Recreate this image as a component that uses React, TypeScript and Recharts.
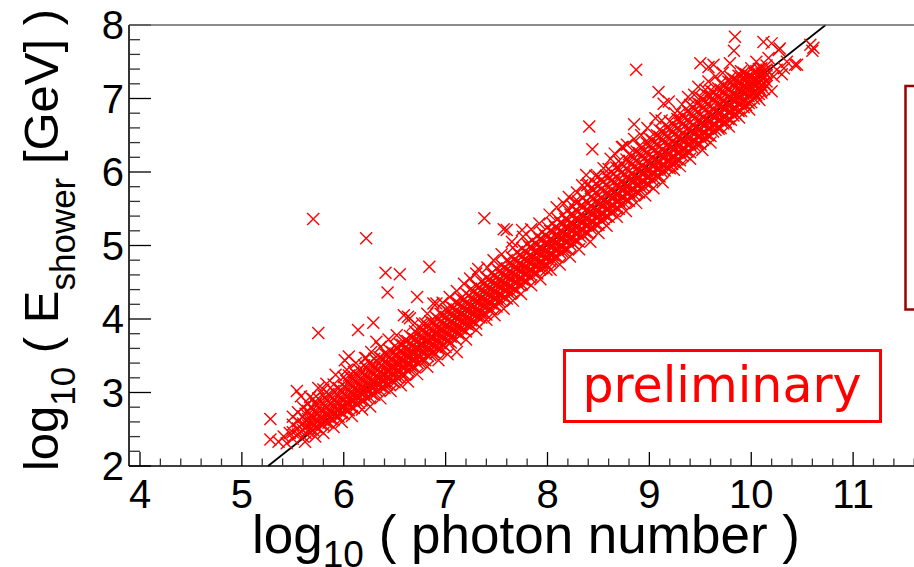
import React from 'react';
import { ScatterChart, Scatter, XAxis, YAxis, ReferenceLine } from 'recharts';

/* ── Data ────────────────────────────────────────────────────────────── */
// dense band: [log10 photon number, [log10 E_shower ...]]
const bandCols: [number, number[]][] = [
  [5.50, [2.37, 2.46, 2.56, 2.67]],
  [5.55, [2.43, 2.51, 2.61, 2.73]],
  [5.60, [2.40, 2.49, 2.58, 2.67, 2.80]],
  [5.65, [2.47, 2.55, 2.64, 2.75, 2.85]],
  [5.70, [2.49, 2.59, 2.66, 2.77, 2.91]],
  [5.75, [2.51, 2.61, 2.71, 2.80, 2.92]],
  [5.80, [2.56, 2.64, 2.74, 2.84, 2.96, 3.04]],
  [5.85, [2.59, 2.69, 2.77, 2.87, 2.98]],
  [5.90, [2.63, 2.71, 2.81, 2.90, 3.02, 3.11]],
  [5.95, [2.67, 2.77, 2.85, 2.95, 3.06]],
  [6.00, [2.71, 2.80, 2.89, 2.98, 3.08, 3.21]],
  [6.05, [2.76, 2.84, 2.92, 3.02, 3.13, 3.23]],
  [6.10, [2.79, 2.89, 2.97, 3.05, 3.17, 3.28]],
  [6.15, [2.86, 2.93, 3.02, 3.11, 3.21, 3.31]],
  [6.20, [2.89, 2.99, 3.06, 3.15, 3.24, 3.37]],
  [6.25, [2.94, 3.02, 3.11, 3.19, 3.30, 3.40]],
  [6.30, [2.97, 3.07, 3.15, 3.25, 3.34, 3.46]],
  [6.35, [3.03, 3.10, 3.20, 3.28, 3.39, 3.48]],
  [6.40, [3.06, 3.16, 3.23, 3.33, 3.42, 3.53]],
  [6.45, [3.11, 3.19, 3.29, 3.37, 3.48, 3.57]],
  [6.50, [3.14, 3.24, 3.33, 3.41, 3.51, 3.63]],
  [6.55, [3.21, 3.28, 3.38, 3.46, 3.56, 3.66]],
  [6.60, [3.24, 3.34, 3.42, 3.52, 3.61, 3.71]],
  [6.65, [3.31, 3.38, 3.48, 3.56, 3.67, 3.77]],
  [6.70, [3.34, 3.44, 3.53, 3.61, 3.72, 3.83]],
  [6.75, [3.41, 3.48, 3.58, 3.66, 3.77, 3.87]],
  [6.80, [3.44, 3.54, 3.62, 3.72, 3.81, 3.94]],
  [6.85, [3.51, 3.58, 3.68, 3.76, 3.87, 3.97]],
  [6.90, [3.53, 3.63, 3.71, 3.82, 3.91, 4.03]],
  [6.95, [3.59, 3.67, 3.77, 3.86, 3.97, 4.07]],
  [7.00, [3.62, 3.73, 3.81, 3.91, 4.02, 4.13]],
  [7.05, [3.68, 3.76, 3.87, 3.96, 4.07, 4.17]],
  [7.10, [3.72, 3.83, 3.91, 4.02, 4.12, 4.23]],
  [7.15, [3.79, 3.87, 3.98, 4.06, 4.18, 4.28]],
  [7.20, [3.83, 3.94, 4.02, 4.13, 4.22, 4.35]],
  [7.25, [3.91, 3.98, 4.09, 4.17, 4.29, 4.41]],
  [7.30, [3.94, 4.05, 4.13, 4.24, 4.33, 4.45]],
  [7.35, [4.02, 4.09, 4.20, 4.28, 4.40, 4.51]],
  [7.40, [4.06, 4.17, 4.24, 4.35, 4.45, 4.56]],
  [7.45, [4.13, 4.21, 4.32, 4.40, 4.51, 4.62]],
  [7.50, [4.17, 4.28, 4.36, 4.47, 4.56, 4.69]],
  [7.55, [4.25, 4.32, 4.43, 4.51, 4.63, 4.73]],
  [7.60, [4.28, 4.39, 4.47, 4.58, 4.67, 4.80]],
  [7.65, [4.36, 4.43, 4.54, 4.62, 4.74, 4.84]],
  [7.70, [4.39, 4.50, 4.58, 4.69, 4.78, 4.91]],
  [7.75, [4.47, 4.54, 4.65, 4.73, 4.85, 4.96]],
  [7.80, [4.51, 4.62, 4.69, 4.80, 4.90, 5.02]],
  [7.85, [4.58, 4.65, 4.77, 4.85, 4.97, 5.07]],
  [7.90, [4.62, 4.73, 4.80, 4.92, 5.01, 5.13]],
  [7.95, [4.69, 4.76, 4.88, 4.96, 5.08, 5.18]],
  [8.00, [4.73, 4.84, 4.91, 5.03, 5.12, 5.25]],
  [8.05, [4.80, 4.87, 4.99, 5.07, 5.19, 5.30]],
  [8.10, [4.84, 4.95, 5.02, 5.14, 5.23, 5.36]],
  [8.15, [4.91, 4.98, 5.10, 5.18, 5.30, 5.42]],
  [8.20, [4.95, 5.06, 5.13, 5.25, 5.34, 5.48]],
  [8.25, [5.03, 5.10, 5.21, 5.29, 5.42, 5.53]],
  [8.30, [5.06, 5.17, 5.25, 5.36, 5.46, 5.60]],
  [8.35, [5.14, 5.21, 5.32, 5.40, 5.53, 5.65]],
  [8.40, [5.17, 5.28, 5.36, 5.48, 5.57, 5.71, 5.84]],
  [8.45, [5.25, 5.32, 5.43, 5.51, 5.64, 5.76]],
  [8.50, [5.28, 5.39, 5.47, 5.59, 5.68, 5.81, 5.94]],
  [8.55, [5.36, 5.43, 5.54, 5.62, 5.75, 5.87]],
  [8.60, [5.39, 5.50, 5.58, 5.70, 5.79, 5.92, 6.04]],
  [8.65, [5.47, 5.54, 5.65, 5.73, 5.86, 5.97]],
  [8.70, [5.50, 5.61, 5.69, 5.81, 5.90, 6.05, 6.15]],
  [8.75, [5.58, 5.65, 5.76, 5.84, 5.97, 6.08]],
  [8.80, [5.61, 5.72, 5.80, 5.92, 6.01, 6.15, 6.24]],
  [8.85, [5.69, 5.76, 5.87, 5.95, 6.08, 6.18]],
  [8.90, [5.72, 5.83, 5.91, 6.03, 6.12, 6.26, 6.35]],
  [8.95, [5.80, 5.87, 5.98, 6.06, 6.19, 6.29]],
  [9.00, [5.83, 5.94, 6.02, 6.14, 6.23, 6.37, 6.46]],
  [9.05, [5.91, 5.98, 6.09, 6.17, 6.30, 6.40]],
  [9.10, [5.94, 6.05, 6.13, 6.25, 6.34, 6.48, 6.57]],
  [9.15, [6.02, 6.09, 6.20, 6.28, 6.41, 6.51]],
  [9.20, [6.05, 6.16, 6.24, 6.36, 6.45, 6.59, 6.69]],
  [9.25, [6.13, 6.20, 6.31, 6.39, 6.52, 6.62]],
  [9.30, [6.16, 6.27, 6.35, 6.47, 6.56, 6.70, 6.80]],
  [9.35, [6.24, 6.31, 6.42, 6.50, 6.63, 6.73]],
  [9.40, [6.27, 6.38, 6.46, 6.58, 6.67, 6.81, 6.91]],
  [9.45, [6.35, 6.42, 6.53, 6.61, 6.74, 6.84]],
  [9.50, [6.38, 6.49, 6.57, 6.69, 6.78, 6.92, 7.01]],
  [9.55, [6.46, 6.53, 6.64, 6.72, 6.85, 6.95]],
  [9.60, [6.49, 6.60, 6.68, 6.80, 6.89, 7.03, 7.11]],
  [9.65, [6.57, 6.64, 6.75, 6.83, 6.96, 7.05]],
  [9.70, [6.60, 6.71, 6.79, 6.91, 6.99, 7.12, 7.21]],
  [9.75, [6.68, 6.75, 6.86, 6.94, 7.06, 7.15]],
  [9.80, [6.71, 6.82, 6.90, 7.01, 7.09, 7.22, 7.29]],
  [9.85, [6.79, 6.86, 6.97, 7.04, 7.16, 7.24]],
  [9.90, [6.83, 6.94, 7.01, 7.12, 7.19, 7.31, 7.37]],
  [9.95, [6.91, 6.98, 7.08, 7.15, 7.26, 7.33]],
  [10.00, [6.95, 7.06, 7.12, 7.22, 7.29, 7.41]],
  [10.05, [7.04, 7.10, 7.20, 7.26, 7.37]],
  [10.10, [7.08, 7.18, 7.24, 7.34, 7.41]],
  [10.15, [7.17, 7.23, 7.32, 7.39]],
];

// the same band, events lying between the columns above
const bandMidCols: [number, number[]][] = [
  [5.625, [2.45, 2.53, 2.62, 2.71]],
  [5.675, [2.50, 2.58, 2.68, 2.80]],
  [5.725, [2.53, 2.62, 2.72, 2.84]],
  [5.775, [2.57, 2.66, 2.76, 2.88]],
  [5.825, [2.60, 2.70, 2.80, 2.91]],
  [5.875, [2.64, 2.74, 2.84, 2.95]],
  [5.925, [2.68, 2.77, 2.87, 2.98]],
  [5.975, [2.72, 2.81, 2.91, 3.02]],
  [6.025, [2.77, 2.86, 2.95, 3.06, 3.16]],
  [6.075, [2.80, 2.89, 2.99, 3.10, 3.20]],
  [6.125, [2.84, 2.94, 3.03, 3.14, 3.24]],
  [6.175, [2.89, 2.98, 3.07, 3.18, 3.28]],
  [6.225, [2.93, 3.03, 3.12, 3.22, 3.33]],
  [6.275, [2.98, 3.07, 3.16, 3.27, 3.37]],
  [6.325, [3.02, 3.12, 3.21, 3.31, 3.42]],
  [6.375, [3.07, 3.16, 3.25, 3.36, 3.46]],
  [6.425, [3.11, 3.21, 3.30, 3.40, 3.51]],
  [6.475, [3.16, 3.25, 3.35, 3.45, 3.55]],
  [6.525, [3.20, 3.30, 3.39, 3.50, 3.60]],
  [6.575, [3.25, 3.35, 3.44, 3.54, 3.65]],
  [6.625, [3.30, 3.40, 3.49, 3.59, 3.70]],
  [6.675, [3.35, 3.45, 3.54, 3.64, 3.75]],
  [6.725, [3.40, 3.50, 3.59, 3.69, 3.80]],
  [6.775, [3.45, 3.55, 3.64, 3.74, 3.85]],
  [6.825, [3.50, 3.60, 3.69, 3.79, 3.90]],
  [6.875, [3.55, 3.65, 3.74, 3.84, 3.95]],
  [6.925, [3.60, 3.70, 3.79, 3.89, 4.00]],
  [6.975, [3.65, 3.75, 3.84, 3.94, 4.05]],
  [7.025, [3.70, 3.80, 3.89, 3.99, 4.10]],
  [7.075, [3.75, 3.85, 3.94, 4.05, 4.15]],
  [7.125, [3.80, 3.90, 4.00, 4.10, 4.21]],
  [7.175, [3.86, 3.95, 4.05, 4.15, 4.26]],
  [7.225, [3.91, 4.01, 4.11, 4.21, 4.32]],
  [7.275, [3.97, 4.06, 4.16, 4.26, 4.37]],
  [7.325, [4.02, 4.12, 4.22, 4.32, 4.43]],
  [7.375, [4.08, 4.17, 4.27, 4.37, 4.48]],
  [7.425, [4.13, 4.23, 4.33, 4.43, 4.54]],
  [7.475, [4.19, 4.28, 4.38, 4.48, 4.59]],
  [7.525, [4.24, 4.34, 4.44, 4.54, 4.65]],
  [7.575, [4.30, 4.39, 4.49, 4.59, 4.70]],
  [7.625, [4.35, 4.45, 4.55, 4.65, 4.76]],
  [7.675, [4.41, 4.50, 4.60, 4.70, 4.81]],
  [7.725, [4.46, 4.56, 4.66, 4.76, 4.87]],
  [7.775, [4.52, 4.61, 4.71, 4.81, 4.92]],
  [7.825, [4.57, 4.67, 4.77, 4.87, 4.98]],
  [7.875, [4.63, 4.72, 4.82, 4.92, 5.03]],
  [7.925, [4.68, 4.78, 4.88, 4.98, 5.09]],
  [7.975, [4.74, 4.83, 4.93, 5.03, 5.14]],
  [8.025, [4.79, 4.89, 4.99, 5.09, 5.20]],
  [8.075, [4.85, 4.94, 5.04, 5.14, 5.25]],
  [8.125, [4.90, 5.00, 5.10, 5.20, 5.31]],
  [8.175, [4.96, 5.05, 5.15, 5.25, 5.36]],
  [8.225, [5.01, 5.11, 5.21, 5.31, 5.42]],
  [8.275, [5.07, 5.16, 5.26, 5.36, 5.48]],
  [8.325, [5.12, 5.22, 5.32, 5.42, 5.54]],
  [8.375, [5.18, 5.27, 5.37, 5.48, 5.60]],
  [8.425, [5.23, 5.33, 5.43, 5.54, 5.66, 5.78]],
  [8.475, [5.29, 5.38, 5.48, 5.60, 5.72, 5.84]],
  [8.525, [5.34, 5.44, 5.54, 5.65, 5.77, 5.89]],
  [8.575, [5.40, 5.49, 5.59, 5.71, 5.83, 5.95]],
  [8.625, [5.45, 5.55, 5.65, 5.76, 5.88, 6.00]],
  [8.675, [5.51, 5.60, 5.70, 5.82, 5.94, 6.06]],
  [8.725, [5.56, 5.66, 5.76, 5.87, 5.99, 6.11]],
  [8.775, [5.62, 5.71, 5.81, 5.93, 6.05, 6.17]],
  [8.825, [5.67, 5.77, 5.87, 5.98, 6.10, 6.22]],
  [8.875, [5.73, 5.82, 5.92, 6.04, 6.16, 6.28]],
  [8.925, [5.78, 5.88, 5.98, 6.09, 6.21, 6.33]],
  [8.975, [5.84, 5.93, 6.03, 6.15, 6.27, 6.39]],
  [9.025, [5.89, 5.99, 6.09, 6.20, 6.32, 6.44]],
  [9.075, [5.95, 6.04, 6.14, 6.26, 6.38, 6.50]],
  [9.125, [6.00, 6.10, 6.20, 6.31, 6.43, 6.55]],
  [9.175, [6.06, 6.15, 6.25, 6.37, 6.49, 6.61]],
  [9.225, [6.11, 6.21, 6.31, 6.42, 6.54, 6.66]],
  [9.275, [6.17, 6.26, 6.36, 6.48, 6.60, 6.72]],
  [9.325, [6.22, 6.32, 6.42, 6.53, 6.65, 6.77]],
  [9.375, [6.28, 6.37, 6.47, 6.59, 6.71, 6.83]],
  [9.425, [6.33, 6.43, 6.53, 6.64, 6.76, 6.88]],
  [9.475, [6.39, 6.48, 6.58, 6.70, 6.82, 6.94]],
  [9.525, [6.44, 6.54, 6.64, 6.75, 6.87, 6.99]],
  [9.575, [6.50, 6.59, 6.69, 6.81, 6.93, 7.04]],
  [9.625, [6.55, 6.65, 6.75, 6.86, 6.98, 7.09]],
  [9.675, [6.61, 6.70, 6.80, 6.92, 7.03, 7.14]],
  [9.725, [6.66, 6.76, 6.86, 6.97, 7.08, 7.18]],
  [9.775, [6.72, 6.81, 6.91, 7.02, 7.13, 7.23]],
  [9.825, [6.77, 6.87, 6.97, 7.07, 7.18, 7.27]],
  [9.875, [6.83, 6.92, 7.02, 7.12, 7.22, 7.31]],
  [9.925, [6.88, 6.98, 7.07, 7.17, 7.27, 7.35]],
  [9.975, [6.94, 7.03, 7.13, 7.22, 7.31]],
  [10.025, [7.00, 7.09, 7.18, 7.27, 7.35]],
  [10.075, [7.06, 7.15, 7.23, 7.32, 7.40]],
  [10.125, [7.13, 7.21, 7.29, 7.37]],
];

// looser events around the band edges
const edgePoints: [number, number][] = [
  [5.58, 2.95], [5.67, 2.94], [5.75, 3.06], [5.83, 3.12], [5.92, 3.24], [6.01, 3.44], [6.03, 3.31],
  [6.12, 3.40], [6.21, 3.47], [6.27, 3.55], [6.32, 3.69], [6.36, 3.62], [6.44, 3.72], [6.52, 3.78],
  [6.59, 4.05], [6.65, 4.01], [6.68, 3.92], [6.77, 3.94], [6.82, 4.07], [6.88, 4.21], [6.91, 4.21],
  [6.97, 4.22], [7.04, 4.30], [7.11, 4.38], [7.18, 4.48], [7.24, 4.55], [7.30, 4.62], [7.32, 4.68],
  [7.41, 4.70], [7.47, 4.80], [7.55, 4.88], [7.60, 5.21], [7.65, 5.05], [7.66, 4.97], [7.75, 5.21],
  [7.76, 5.12], [7.84, 5.22], [7.92, 5.30], [8.02, 5.42], [8.09, 5.52], [8.16, 5.57], [8.21, 5.66],
  [8.27, 5.60], [8.29, 5.72], [8.34, 5.82], [8.39, 5.82], [8.38, 5.96], [8.47, 5.95], [8.55, 6.05],
  [8.62, 6.18], [8.66, 6.25], [8.73, 6.34], [8.78, 6.37], [8.85, 6.45], [8.92, 6.50], [8.98, 6.60],
  [9.06, 6.73], [9.09, 7.09], [9.14, 6.93], [9.19, 6.96], [9.12, 6.70], [9.25, 6.80], [9.32, 6.92],
  [9.38, 7.02], [9.44, 7.05], [9.48, 7.16], [9.50, 7.48], [9.55, 7.12], [9.58, 7.23], [9.58, 7.43],
  [9.63, 7.46], [9.65, 7.30], [9.72, 7.35], [9.79, 7.48],
  [5.62, 2.33], [5.72, 2.40], [5.80, 2.45], [5.90, 2.53], [5.98, 2.60], [6.08, 2.68], [6.18, 2.77],
  [6.26, 2.81], [6.36, 2.92], [6.46, 3.02], [6.56, 3.10], [6.63, 3.15], [6.72, 3.25], [6.82, 3.35],
  [6.93, 3.44], [7.02, 3.52], [7.11, 3.55], [7.20, 3.72], [7.30, 3.85], [7.40, 3.99], [7.48, 4.05],
  [7.57, 4.14], [7.66, 4.25], [7.74, 4.34], [7.84, 4.46], [7.93, 4.54], [7.99, 4.67], [8.03, 4.67],
  [8.12, 4.74], [8.22, 4.85], [8.31, 4.95], [8.42, 5.05], [8.50, 5.17], [8.58, 5.27], [8.68, 5.39],
  [8.77, 5.47], [8.87, 5.58], [8.96, 5.68], [9.04, 5.78], [9.08, 6.03], [9.13, 5.86], [9.24, 6.03],
  [9.30, 6.08], [9.40, 6.18], [9.52, 6.30], [9.60, 6.40], [9.68, 6.59], [9.78, 6.62], [9.88, 6.74],
  [9.98, 6.85], [10.08, 6.98], [10.20, 7.10],
  [9.84, 7.84], [9.83, 7.65], [9.99, 7.16], [10.09, 7.12], [10.12, 7.27], [10.17, 7.55], [10.12, 7.77],
  [10.20, 7.75], [10.27, 7.66], [10.28, 7.68], [10.25, 7.39], [10.32, 7.41], [10.35, 7.50], [10.43, 7.46],
  [10.45, 7.46], [10.58, 7.73], [10.60, 7.65], [10.61, 7.69], [10.22, 7.30], [10.30, 7.33], [10.05, 7.50],
  [10.15, 7.45],
];

// isolated events far from the band
const outliers: [number, number][] = [
  [5.28, 2.64], [5.28, 2.36], [5.41, 2.40], [5.44, 2.31], [5.36, 2.33], [5.47, 2.45], [5.54, 3.02],
  [5.70, 5.36], [5.75, 3.81], [6.14, 3.85], [6.22, 5.10], [6.29, 3.95], [6.41, 4.63], [6.43, 4.36],
  [6.55, 4.61], [6.72, 4.30], [6.63, 4.03], [6.84, 4.71], [7.38, 5.37], [7.57, 5.22], [8.41, 6.62],
  [8.44, 6.31], [8.85, 6.65], [8.87, 7.39], [8.74, 6.34], [6.05, 3.49], [6.22, 3.47],
];

// straight-line fit drawn over the events
const fitLine: [number, number][] = [[5.257, 2], [10.73, 8]];

const xMajor = [4, 5, 6, 7, 8, 9, 10, 11, 12];
const yMajor = [2, 3, 4, 5, 6, 7, 8];

/* ── Helpers ─────────────────────────────────────────────────────────── */
const FONT = '"Liberation Sans", Arial, Helvetica, sans-serif';
const RED = '#ff0000';

const withMinor = (major: number[]) => {
  const out: number[] = [];
  for (let i = 0; i < major.length - 1; i++) {
    for (let k = 0; k < 5; k++) out.push(Math.round((major[i] + k * 0.2) * 10) / 10);
  }
  out.push(major[major.length - 1]);
  return out;
};
const isMajor = (v: number) => Math.abs(v - Math.round(v)) < 1e-6;

const points = [
  ...bandCols.flatMap(([x, ys]) => ys.map((y) => ({ x, y }))),
  ...bandMidCols.flatMap(([x, ys]) => ys.map((y) => ({ x, y }))),
  ...edgePoints.map(([x, y]) => ({ x, y })),
  ...outliers.map(([x, y]) => ({ x, y })),
];

// eslint-disable-next-line @typescript-eslint/no-explicit-any
function XMark(props: any) {
  const { cx, cy } = props;
  const r = 6;
  return (
    <path
      d={`M${cx - r},${cy - r}L${cx + r},${cy + r}M${cx - r},${cy + r}L${cx + r},${cy - r}`}
      stroke={RED}
      strokeWidth={1.4}
      fill="none"
    />
  );
}

// eslint-disable-next-line @typescript-eslint/no-explicit-any
function XTick(props: any) {
  const { x, y, payload } = props;
  const v = payload.value;
  const major = isMajor(v);
  // the 12 label lies outside the cropped canvas
  const showLabel = major && v < 11.5;
  return (
    <g>
      <line x1={x} x2={x} y1={y} y2={y - (major ? 14 : 7.5)} stroke={major ? '#000' : '#333'} strokeWidth={1.3} />
      {showLabel && (
        <text x={x} y={y + 42} textAnchor="middle" fontSize={40} fontFamily={FONT} fill="#000">
          {v}
        </text>
      )}
    </g>
  );
}

// eslint-disable-next-line @typescript-eslint/no-explicit-any
function YTick(props: any) {
  const { x, y, payload } = props;
  const v = payload.value;
  const major = isMajor(v);
  return (
    <g>
      <line x1={x} x2={x + (major ? 22 : 11)} y1={y} y2={y} stroke={major ? '#000' : '#333'} strokeWidth={1.3} />
      {major && (
        <text x={x - 5} y={y + 14} textAnchor="end" fontSize={40} fontFamily={FONT} fill="#000">
          {v}
        </text>
      )}
    </g>
  );
}

/* ── Component ───────────────────────────────────────────────────────── */
export default function App() {
  return (
    <div
      style={{
        position: 'absolute', left: 0, top: 0, width: 914, height: 567,
        overflow: 'hidden', background: '#fff',
      }}
    >
      <ScatterChart width={960} height={567} margin={{ top: 25, right: 5, bottom: 61, left: 89 }}>
        <XAxis
          type="number"
          dataKey="x"
          domain={[3.892, 12]}
          ticks={withMinor(xMajor)}
          interval={0}
          height={40}
          tickSize={0}
          tickMargin={0}
          tickLine={false}
          tick={<XTick />}
          axisLine={{ stroke: '#000', strokeWidth: 1.6 }}
        />
        <YAxis
          type="number"
          dataKey="y"
          domain={[2, 8]}
          ticks={withMinor(yMajor)}
          interval={0}
          width={40}
          tickSize={0}
          tickMargin={0}
          tickLine={false}
          tick={<YTick />}
          axisLine={{ stroke: '#000', strokeWidth: 1.6 }}
        />
        <Scatter data={points} shape={<XMark />} isAnimationActive={false} />
        <ReferenceLine
          segment={fitLine.map(([x, y]) => ({ x, y }))}
          stroke="#000"
          strokeWidth={1.8}
          ifOverflow="visible"
        />
      </ScatterChart>

      <svg
        width={914}
        height={567}
        style={{ position: 'absolute', left: 0, top: 0, pointerEvents: 'none' }}
      >
        {/* top frame edge */}
        <line x1={129} x2={914} y1={25} y2={25} stroke="#666" strokeWidth={1.5} />

        {/* axis titles */}
        <text x={526} y={553} textAnchor="middle" fontSize={53} fontFamily={FONT} fill="#000">
          log<tspan fontSize={37} dy={14}>10</tspan>
          <tspan dy={-14}>{' ( photon number )'}</tspan>
        </text>
        <text
          transform="translate(58,240) rotate(-90)"
          textAnchor="middle"
          fontSize={49}
          fontFamily={FONT}
          fill="#000"
        >
          log<tspan fontSize={35} dy={17}>10</tspan>
          <tspan dy={-17}>{' ( E'}</tspan>
          <tspan fontSize={35} dy={17}>shower</tspan>
          <tspan dy={-17}>{' [GeV] )'}</tspan>
        </text>

        {/* preliminary label */}
        <rect x={564.5} y={350.5} width={316} height={71} fill="#fff" stroke={RED} strokeWidth={3} />
        <text x={722} y={402} textAnchor="middle" fontSize={49} fontFamily='"DejaVu Sans", sans-serif' fill={RED}>
          preliminary
        </text>

        {/* box cut off at right edge */}
        <rect x={905.5} y={86} width={60} height={223.5} fill="none" stroke="#990000" strokeWidth={2.5} />
      </svg>
    </div>
  );
}
